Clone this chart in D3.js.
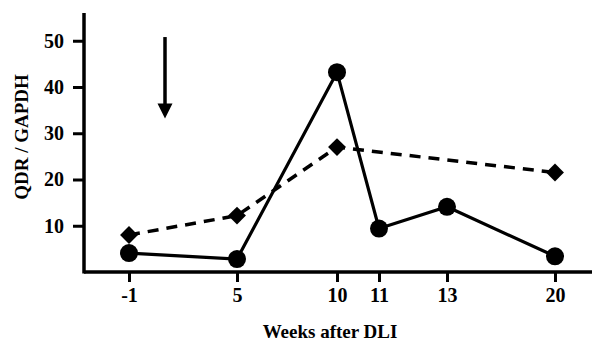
<!DOCTYPE html>
<html>
<head>
<meta charset="utf-8">
<script src="https://cdn.jsdelivr.net/npm/d3@7/dist/d3.min.js"></script>
<style>
  body { margin: 0; background: #fff; }
  svg text { font-family: "Liberation Serif", "Times New Roman", serif; font-weight: bold; fill: #000; }
</style>
</head>
<body>
<div id="chart"></div>
<script>
// data
var weeks = [-1, 5, 10, 11, 13, 20];
var tickLabels = ['-1', '5', '10', '11', '13', '20'];
var solidWeeks = [-1, 5, 10, 11, 13, 20];
var solidValues = [4.1, 2.8, 43.2, 9.4, 14.1, 3.4];
var dashedWeeks = [-1, 5, 10, 20];
var dashedValues = [8.0, 12.2, 27.0, 21.5];
var yTicks = [10, 20, 30, 40, 50];
var arrowWeek = 1;
var arrowFrom = 50.8, arrowTo = 33.2;

var width = 592,
    height = 344;

var svg = d3.select('#chart').append('svg')
    .attr('width', width)
    .attr('height', height);

// x axis is not evenly spaced in the original, so use a piecewise scale
var x = d3.scaleLinear()
    .domain(weeks)
    .range([129, 237, 337, 379, 447, 555]);

var y = d3.scaleLinear()
    .domain([0, 56])
    .range([272, 13]);

var x0 = 84;

//axes
var yAxis = svg.append('g')
    .attr('transform', 'translate(' + x0 + ',0)')
    .call(d3.axisLeft(y).tickValues(yTicks).tickSize(11).tickSizeOuter(0).tickPadding(9));

yAxis.select('.domain').remove();
yAxis.selectAll('.tick line').attr('stroke', '#000').attr('stroke-width', 3);
yAxis.selectAll('.tick text').style('font-size', '20px');

var xAxis = svg.append('g')
    .attr('transform', 'translate(0,' + y(0) + ')')
    .call(d3.axisBottom(x).tickValues(weeks)
        .tickFormat(function(d, i) { return tickLabels[i]; })
        .tickSize(10).tickSizeOuter(0).tickPadding(6));

xAxis.select('.domain').remove();
xAxis.selectAll('.tick line').attr('stroke', '#000').attr('stroke-width', 3);
xAxis.selectAll('.tick text').style('font-size', '20px');

svg.append('line')
    .attr('x1', x0).attr('x2', width)
    .attr('y1', y(0)).attr('y2', y(0))
    .attr('stroke', '#000').attr('stroke-width', 3.5);

svg.append('line')
    .attr('x1', x0).attr('x2', x0)
    .attr('y1', y(56)).attr('y2', y(0) + 1.5)
    .attr('stroke', '#000').attr('stroke-width', 3.5);

//labels
svg.append('text')
    .attr('x', 330)
    .attr('y', 338)
    .attr('text-anchor', 'middle')
    .style('font-size', '19px')
    .text('Weeks after DLI');

svg.append('text')
    .attr('transform', 'translate(28,137) rotate(-90)')
    .attr('text-anchor', 'middle')
    .style('font-size', '19px')
    .text('QDR / GAPDH');

//lines
var line = d3.line()
    .x(function(d) { return x(d[0]); })
    .y(function(d) { return y(d[1]); });

var dashedData = d3.zip(dashedWeeks, dashedValues);
var solidData = d3.zip(solidWeeks, solidValues);

svg.append('path')
    .datum(dashedData)
    .attr('d', line)
    .attr('fill', 'none')
    .attr('stroke', '#000')
    .attr('stroke-width', 3.5)
    .attr('stroke-dasharray', '11,8');

svg.append('path')
    .datum(solidData)
    .attr('d', line)
    .attr('fill', 'none')
    .attr('stroke', '#000')
    .attr('stroke-width', 3.2);

//markers
svg.selectAll('.diamond')
    .data(dashedData)
  .enter().append('path')
    .attr('class', 'diamond')
    .attr('d', d3.symbol().type(d3.symbolSquare).size(160))
    .attr('transform', function(d) {
        return 'translate(' + x(d[0]) + ',' + y(d[1]) + ') rotate(45)';
    })
    .attr('fill', '#000');

svg.selectAll('.dot')
    .data(solidData)
  .enter().append('circle')
    .attr('class', 'dot')
    .attr('cx', function(d) { return x(d[0]); })
    .attr('cy', function(d) { return y(d[1]); })
    .attr('r', 9)
    .attr('fill', '#000');

//arrow marking DLI
var ax = x(arrowWeek);
svg.append('line')
    .attr('x1', ax).attr('x2', ax)
    .attr('y1', y(arrowFrom)).attr('y2', y(arrowTo) - 12)
    .attr('stroke', '#000').attr('stroke-width', 3.5);

svg.append('path')
    .attr('d', 'M' + (ax - 7.5) + ',' + (y(arrowTo) - 15) +
        'L' + (ax + 7.5) + ',' + (y(arrowTo) - 15) +
        'L' + ax + ',' + y(arrowTo) + 'Z')
    .attr('fill', '#000');
</script>
</body>
</html>
